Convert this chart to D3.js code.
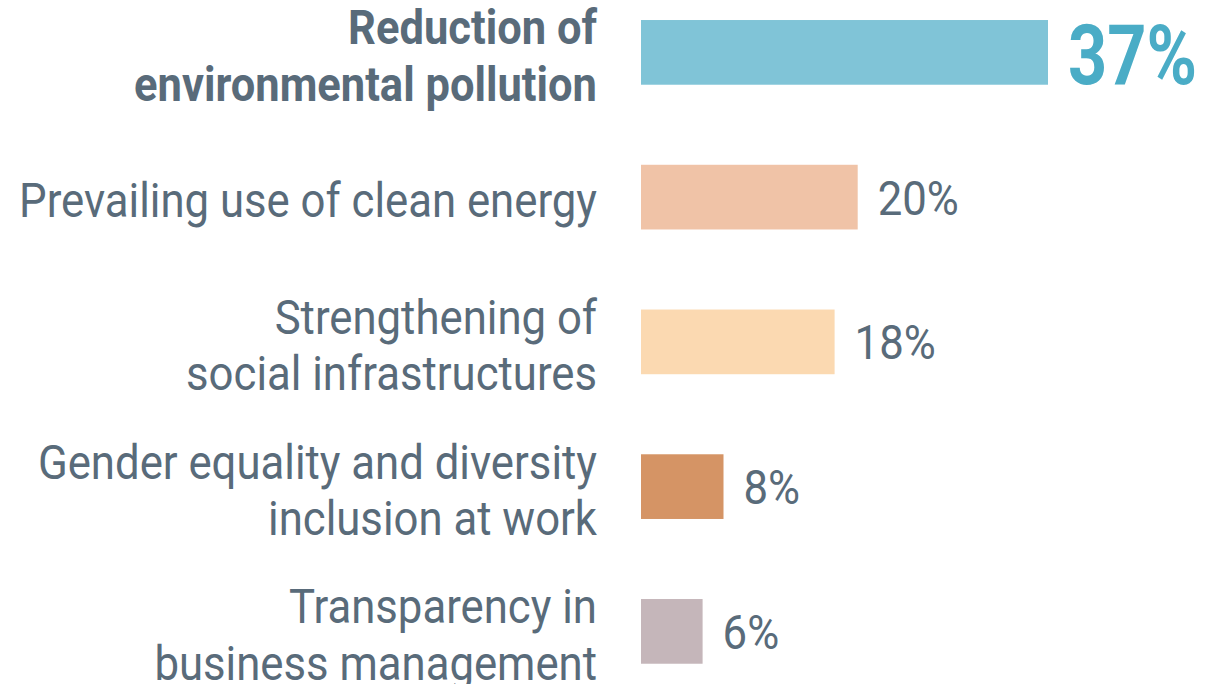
<!DOCTYPE html>
<html>
<head>
<meta charset="utf-8">
<script src="https://cdn.jsdelivr.net/npm/d3@7"></script>
<style>
  html, body { margin: 0; padding: 0; background: #ffffff; }
  svg { display: block; }
  text { font-family: Roboto, "Liberation Sans", sans-serif; }
</style>
</head>
<body>
<svg id="chart" width="1227" height="684"></svg>
<script>
// ---- data ----
const categories = [
  ["Reduction of", "environmental pollution"],
  ["Prevailing use of clean energy"],
  ["Strengthening of", "social infrastructures"],
  ["Gender equality and diversity", "inclusion at work"],
  ["Transparency in", "business management"]
];
const values = [37, 19.7, 17.6, 7.5, 5.6];
const valueLabels = ["37%", "20%", "18%", "8%", "6%"];
const barColors = ["#80c4d7", "#f0c3a7", "#fbd9b1", "#d59465", "#c5b6ba"];
const highlight = [true, false, false, false, false];

// ---- layout ----
const svg = d3.select("#chart");
const textColor = "#596b7a";
const accent = "#4aacc6";
const labelRight = 597;

const ids = categories.map((c, i) => i);
const y = d3.scaleBand()
  .domain(ids)
  .range([-20, 703.75])
  .paddingInner(0.553)
  .paddingOuter(0.2765);

const x = d3.scaleLinear().domain([0, 37]).range([641, 1048]);

const g = svg.append("g");

// helper: measure a string's width in a given style
function measure(str, size, weight) {
  const t = svg.append("text").attr("font-size", size).attr("font-weight", weight).text(str);
  const w = t.node().getComputedTextLength();
  t.remove();
  return w;
}
// condensed look: horizontal compression so that widths match the reference face
const sxRegular = 578 / measure("Prevailing use of clean energy", 48, "normal");
const sxBold = 463 / measure("environmental pollution", 48, "bold");
const sxBig = 129 / measure("37%", 83, "bold");

// bars
g.selectAll("rect.bar")
  .data(ids)
  .join("rect")
  .attr("class", "bar")
  .attr("x", x(0))
  .attr("y", i => y(i))
  .attr("width", i => x(values[i]) - x(0))
  .attr("height", y.bandwidth())
  .attr("fill", i => barColors[i]);

// value labels
g.selectAll("g.val")
  .data(ids)
  .join("g")
  .attr("class", "val")
  .attr("transform", i => {
    const c = y(i) + y.bandwidth() / 2;
    const yy = highlight[i] ? c + 31.5 : c + 17.5;
    const sx = highlight[i] ? sxBig : sxRegular;
    return `translate(${x(values[i]) + 20},${yy}) scale(${sx},1)`;
  })
  .append("text")
  .attr("fill", i => highlight[i] ? accent : textColor)
  .attr("font-size", i => highlight[i] ? 83 : 48)
  .attr("font-weight", i => highlight[i] ? "bold" : "normal")
  .text(i => valueLabels[i]);

// category labels
g.selectAll("g.cat")
  .data(ids)
  .join("g")
  .attr("class", "cat")
  .attr("transform", i => `translate(${labelRight},0) scale(${highlight[i] ? sxBold : sxRegular},1)`)
  .each(function(i) {
    const lines = categories[i];
    const c = y(i) + y.bandwidth() / 2;
    const t = d3.select(this).append("text")
      .attr("text-anchor", "end")
      .attr("fill", textColor)
      .attr("font-size", 48)
      .attr("font-weight", highlight[i] ? "bold" : "normal");
    if (lines.length === 1) {
      t.append("tspan").attr("x", 0).attr("y", c + 19.5).text(lines[0]);
    } else {
      lines.forEach((ln, k) => {
        t.append("tspan").attr("x", 0).attr("y", c - 8 + k * 56.5).text(ln);
      });
    }
  });
</script>
</body>
</html>
